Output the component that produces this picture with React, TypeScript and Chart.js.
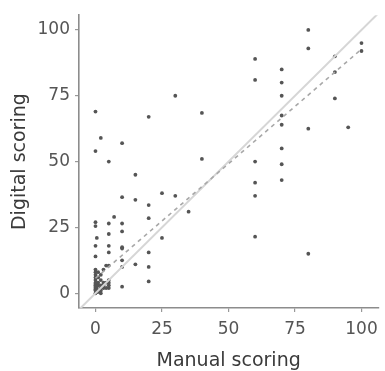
import React, { useEffect, useRef } from "react";
import { Chart, registerables } from "chart.js";

Chart.register(...registerables);

// Manual scoring (x) and digital scoring (y)
const manualScores = [
  0, 2, 0, 5, 10, 15, 20, 30,
  10, 15, 20, 25, 30, 35, 20, 25, 20, 20, 20, 15, 10, 10, 10, 10, 10, 10, 10, 7, 5, 5, 5, 5, 5, 0, 0, 0.5, 0, 0,
  40, 40, 60, 60, 60, 60, 60, 60, 70, 70, 70, 70, 70, 70, 70, 70, 80, 80, 80, 80, 90, 90, 90, 95, 100, 100,
  0, 0, 0, 0, 0, 0, 0, 0, 0, 0, 0, 0, 0, 0.5, 0.5, 1, 1, 1, 1, 1, 2, 2, 2, 2, 2, 3, 3, 3, 4, 4, 5, 5, 5, 5, 3, 4, 1, 2,
];
const digitalScores = [
  69, 59, 54, 50, 57, 45, 67, 75,
  36.5, 35.5, 33.5, 38, 37, 31, 28.5, 21, 15.5, 10, 4.5, 11, 2.5, 26.5, 23.5, 17.5, 17, 12.5, 10, 29, 26.5, 22.5, 18, 15.5, 10.5, 27, 25.5, 21, 18, 14,
  68.5, 51, 89, 81, 50, 42, 37, 21.5, 85, 80, 75, 67.5, 64, 55, 49, 43, 100, 93, 62.5, 15, 90, 84, 74, 63, 95, 92,
  0, 1, 1.5, 2, 2.5, 3, 3.5, 4, 5, 6, 7, 8, 9, 0.5, 2, 1, 3, 4, 6, 8, 1, 2, 3, 5, 7, 2, 4, 3, 2, 4, 3, 4, 2, 5, 9, 10.5, 0.5, 0,
];

// Identity line (y = x) end points and fitted line end points
const identityX = [-10, 110];
const identityY = [-10, 110];
const fitX = [0, 100];
const fitY = [5.7, 92.7];

const tickValues = [0, 25, 50, 75, 100];
const xTitle = "Manual scoring";
const yTitle = "Digital scoring";

export default function App() {
  const ref = useRef<HTMLCanvasElement | null>(null);

  useEffect(() => {
    if (!ref.current) return;
    const points = manualScores.map((x, i) => ({ x, y: digitalScores[i] }));
    const identity = identityX.map((x, i) => ({ x, y: identityY[i] }));
    const fit = fitX.map((x, i) => ({ x, y: fitY[i] }));
    const tickFont = { family: "DejaVu Sans", size: 17 };
    const titleFont = { family: "DejaVu Sans", size: 19, lineHeight: 1 };
    const chart = new Chart(ref.current, {
      type: "scatter",
      data: {
        datasets: [
          {
            type: "scatter",
            data: points,
            pointRadius: 1.9,
            pointBackgroundColor: "#555",
            pointBorderWidth: 0,
            order: 3,
          },
          {
            type: "line",
            data: identity,
            borderColor: "#d6d6d6",
            borderWidth: 2,
            pointRadius: 0,
            fill: false,
            order: 2,
          },
          {
            type: "line",
            data: fit,
            borderColor: "#a8a8a8",
            borderWidth: 1.6,
            borderDash: [4, 4],
            pointRadius: 0,
            fill: false,
            order: 1,
          },
        ],
      },
      options: {
        animation: false,
        responsive: false,
        devicePixelRatio: 1,
        layout: { padding: { top: 13, right: 5, left: 0, bottom: 0 } },
        plugins: { legend: { display: false }, tooltip: { enabled: false } },
        scales: {
          x: {
            type: "linear",
            min: -6.2,
            max: 106.3,
            afterBuildTicks: (axis: any) => {
              axis.ticks = tickValues.map((v) => ({ value: v }));
            },
            afterFit: (axis: any) => {
              axis.height = 63;
            },
            grid: { drawOnChartArea: false, drawTicks: true, tickLength: 4, color: "#999", lineWidth: 1.2 },
            border: { display: true, color: "#8c8c8c", width: 1.6 },
            ticks: { font: tickFont, color: "#555", padding: 7, maxRotation: 0 },
            title: { display: true, text: xTitle, font: titleFont, color: "#3a3a3a", padding: { top: 0, bottom: 0 } },
          },
          y: {
            type: "linear",
            min: -5.6,
            max: 105.6,
            afterBuildTicks: (axis: any) => {
              axis.ticks = tickValues.map((v) => ({ value: v }));
            },
            afterFit: (axis: any) => {
              axis.width = 79;
            },
            grid: { drawOnChartArea: false, drawTicks: true, tickLength: 4, color: "#999", lineWidth: 1.2 },
            border: { display: true, color: "#8c8c8c", width: 1.6 },
            ticks: { font: tickFont, color: "#555", padding: 5 },
            title: { display: true, text: yTitle, font: titleFont, color: "#3a3a3a", padding: { top: 11, bottom: 0 } },
          },
        },
      },
    });
    return () => chart.destroy();
  }, []);

  return (
    <div style={{ position: "fixed", left: 0, top: 0, width: 385, height: 371, background: "#fff" }}>
      <canvas ref={ref} width={385} height={371} />
    </div>
  );
}
